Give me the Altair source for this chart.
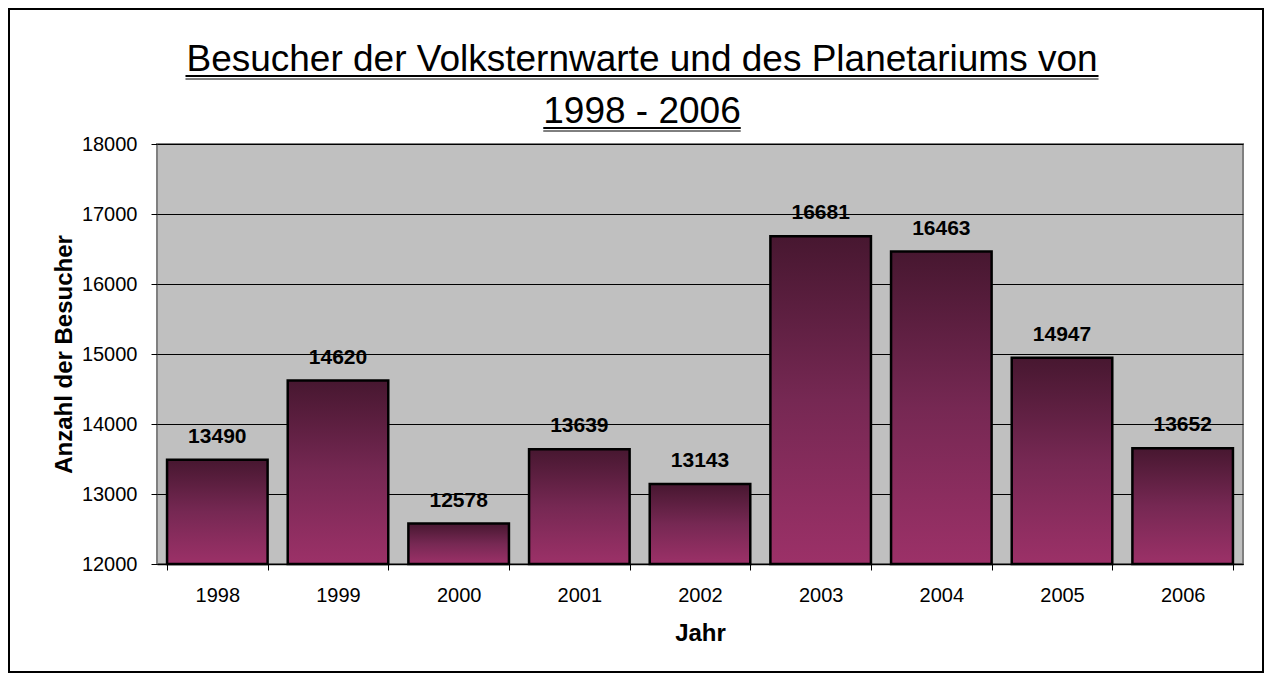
import altair as alt
import pandas as pd

# ---- data ----
years = ["1998", "1999", "2000", "2001", "2002", "2003", "2004", "2005", "2006"]
visitors = [13490, 14620, 12578, 13639, 13143, 16681, 16463, 14947, 13652]
y_ticks = [12000, 13000, 14000, 15000, 16000, 17000, 18000]
y_domain = [12000, 18000]
title_lines = ["Besucher der Volksternwarte und des Planetariums von", "1998 - 2006"]

df = pd.DataFrame({"Jahr": years, "Besucher": visitors})

FONT = "Liberation Sans"
TITLE_FS = 37
PLOT_W, PLOT_H = 1086, 420

x_enc = alt.X(
    "Jahr:N",
    sort=years,
    title="Jahr",
    scale=alt.Scale(paddingInner=0.1667, paddingOuter=0.0833),
    axis=alt.Axis(
        labelAngle=0, tickBand="extent", tickSize=6, tickColor="black",
        domainColor="black", domainWidth=1.5, labelFontSize=20,
        labelPadding=15, titleFontSize=24, titleFontWeight="bold",
        titlePadding=16, grid=False, labelColor="black", titleColor="black",
    ),
)
y_enc = alt.Y(
    "Besucher:Q",
    title="Anzahl der Besucher",
    scale=alt.Scale(domain=y_domain, zero=False, nice=False),
    axis=alt.Axis(
        values=y_ticks, format="d", tickSize=6, tickColor="black",
        domain=False, labelFontSize=20, labelPadding=14,
        titleFontSize=24, titleFontWeight="bold", titlePadding=5,
        grid=True, gridColor="black", gridWidth=1, gridOpacity=1,
        labelColor="black", titleColor="black",
    ),
)

bars = alt.Chart(df).mark_bar(
    color=alt.Gradient(
        gradient="linear",
        stops=[
            alt.GradientStop(color="#471730", offset=0),
            alt.GradientStop(color="#762853", offset=0.5),
            alt.GradientStop(color="#9c3168", offset=1),
        ],
        x1=0, x2=0, y1=0, y2=1,
    ),
    stroke="black",
    strokeWidth=2.5,
).encode(x=x_enc, y=y_enc, y2=alt.datum(y_domain[0]))

labels = alt.Chart(df).mark_text(
    dy=-17, baseline="alphabetic", fontWeight="bold", fontSize=21,
    font=FONT, color="black",
).encode(x=x_enc, y=y_enc, text=alt.Text("Besucher:Q", format="d"))

# ---- title as text with underline ----
cx = 485
t1 = alt.Chart(pd.DataFrame({"t": [title_lines[0]]})).mark_text(
    fontSize=TITLE_FS, font=FONT, baseline="alphabetic", align="center", color="black"
).encode(x=alt.value(cx), y=alt.value(-73), text="t:N")
t2 = alt.Chart(pd.DataFrame({"t": [title_lines[1]]})).mark_text(
    fontSize=TITLE_FS, font=FONT, baseline="alphabetic", align="center", color="black"
).encode(x=alt.value(cx), y=alt.value(-21), text="t:N")

w1 = 24.677 * TITLE_FS / 2
w2 = 5.337 * TITLE_FS / 2
one = pd.DataFrame({"k": [0]})
ul = []
for (w, yb) in [(w1, -68), (w2, -16)]:
    ul.append(alt.Chart(one).mark_rule(color="black", strokeWidth=2).encode(
        x=alt.value(cx - w), x2=alt.value(cx + w), y=alt.value(yb)))
    ul.append(alt.Chart(one).mark_rule(color="black", strokeWidth=1).encode(
        x=alt.value(cx - w), x2=alt.value(cx + w), y=alt.value(yb + 3)))

frame = alt.Chart(one).mark_rect(
    fillOpacity=0, stroke="black", strokeWidth=2
).encode(x=alt.value(-148), x2=alt.value(1106), y=alt.value(-135), y2=alt.value(528))

chart = alt.layer(bars, labels, t1, t2, *ul, frame).properties(
    width=PLOT_W,
    height=PLOT_H,
    autosize=alt.AutoSizeParams(type="none"),
    padding={"left": 149, "top": 136, "right": 21, "bottom": 109},
    background="white",
).configure(font=FONT).configure_view(
    stroke="#808080", strokeWidth=2, fill="#c0c0c0"
)

chart.save("out.html", embed_options={"renderer": "svg", "actions": False})
